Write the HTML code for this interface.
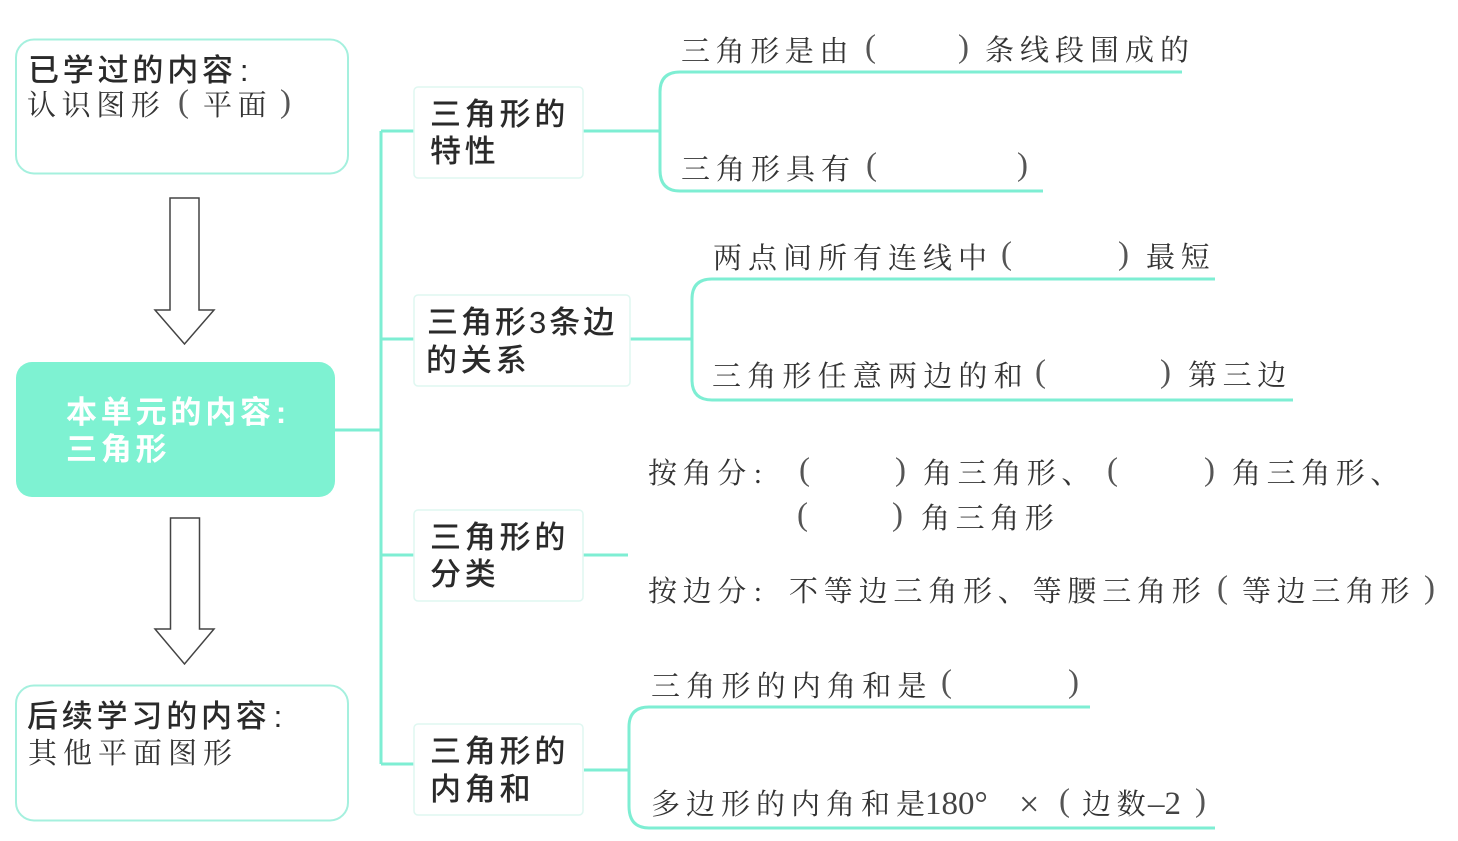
<!DOCTYPE html>
<html><head><meta charset="utf-8">
<style>
html,body{margin:0;padding:0;background:#fff;width:1458px;height:841px;overflow:hidden}
svg{display:block}
.h{font-family:"Liberation Sans","Noto Sans CJK SC",sans-serif;font-size:31px;fill:#2a2a2a;letter-spacing:3.8px;font-weight:500}
.w{font-family:"Liberation Sans","Noto Sans CJK SC",sans-serif;font-size:31px;fill:#fff;letter-spacing:3.8px;font-weight:700}
.s{font-family:"Liberation Serif","Noto Serif CJK SC",serif;font-size:29px;fill:#333;letter-spacing:5.6px}
.x{letter-spacing:6px}
.p{font-family:"Liberation Serif",serif;font-size:33px;fill:#555;transform:translateY(-3px)}
.n{font-family:"Liberation Serif",serif;font-size:33px;fill:#444}
.l{fill:none;stroke:#7eeed3;stroke-width:3}
</style></head><body>
<svg width="1458" height="841" viewBox="0 0 1458 841" xmlns="http://www.w3.org/2000/svg">
<rect width="1458" height="841" fill="#fff"/>
<rect x="16" y="39.500" width="332" height="134" rx="18" fill="#fff" stroke="#a5f0de" stroke-width="2"/>
<rect x="16" y="685.500" width="332" height="135" rx="18" fill="#fff" stroke="#a5f0de" stroke-width="2"/>
<rect x="16" y="362" width="319" height="135" rx="16" fill="#7ef2d2"/>
<path d="M170 198H199V310H214L184.500 344L155 310H170Z" fill="#fff" stroke="#444" stroke-width="1.500"/>
<path d="M170.500 518H199.500V629H214L184.500 664L155 629H170.500Z" fill="#fff" stroke="#444" stroke-width="1.500"/>
<path class="l" d="M335 430H381M381 131V764M381 131H414M381 339H414M381 555H414M381 764H414"/>
<path class="l" d="M583 131H660M630 339H692M583 555H628M584 770H629"/>
<path class="l" d="M1182 72H680Q660 72 660 92V170Q660 191 680 191H1043"/>
<path class="l" d="M1215 279H712Q692 279 692 299V380Q692 400 712 400H1293"/>
<path class="l" d="M1090 707H649Q629 707 629 727V806Q629 828 649 828H1215"/>
<g fill="#fff" stroke="#dff7f1" stroke-width="1.500">
<rect x="414" y="87" width="169" height="91" rx="4"/>
<rect x="414" y="295" width="216" height="91" rx="4"/>
<rect x="414" y="510" width="169" height="91" rx="4"/>
<rect x="414" y="724" width="169" height="91" rx="4"/>
</g>
<text class="h" x="28" y="81">已学过的内容<tspan dx="3">:</tspan></text>
<text class="s" x="27" y="115">认识图形</text><text class="p" x="178" y="115">(</text><text class="s" x="203" y="115">平面</text><text class="p" x="280" y="115">)</text>
<text class="w" x="66" y="423">本单元的内容<tspan dx="1">:</tspan></text>
<text class="w" x="66" y="460">三角形</text>
<text class="h" x="27" y="727">后续学习的内容<tspan dx="3">:</tspan></text>
<text class="s x" x="28" y="763">其他平面图形</text>
<text class="h" x="430" y="125">三角形的</text><text class="h" x="430" y="162">特性</text>
<text class="h" x="427" y="333" style="letter-spacing:3px">三角形3条边</text><text class="h" x="426" y="371">的关系</text>
<text class="h" x="430" y="548">三角形的</text><text class="h" x="430" y="585">分类</text>
<text class="h" x="430" y="762">三角形的</text><text class="h" x="430" y="800">内角和</text>
<text class="s" x="681" y="61">三角形是由</text><text class="p" x="865" y="60">(</text><text class="p" x="958" y="60">)</text><text class="s x" x="985" y="60">条线段围成的</text>
<text class="s x" x="681" y="179">三角形具有</text><text class="p" x="866" y="178">(</text><text class="p" x="1017" y="178">)</text>
<text class="s x" x="713" y="268">两点间所有连线中</text><text class="p" x="1001" y="267">(</text><text class="p" x="1118" y="267">)</text><text class="s" x="1146" y="267">最短</text>
<text class="s" x="712" y="386" style="letter-spacing:6.2px">三角形任意两边的和</text><text class="p" x="1035" y="385">(</text><text class="p" x="1160" y="385">)</text><text class="s" x="1188" y="385">第三边</text>
<text class="s" x="648" y="483">按角分<tspan dx="2">:</tspan></text><text class="p" x="799" y="483">(</text><text class="p" x="895" y="483">)</text><text class="s" x="923" y="483">角三角形、</text><text class="p" x="1107" y="483">(</text><text class="p" x="1204" y="483">)</text><text class="s" x="1232" y="483">角三角形、</text>
<text class="p" x="797" y="528">(</text><text class="p" x="892" y="528">)</text><text class="s" x="921" y="528">角三角形</text>
<text class="s" x="648" y="601">按边分<tspan dx="2">:</tspan></text><text class="s" x="789" y="601" style="letter-spacing:5.8px">不等边三角形、等腰三角形</text><text class="p" x="1217" y="601">(</text><text class="s" x="1242" y="601">等边三角形</text><text class="p" x="1424" y="601">)</text>
<text class="s" x="651" y="696" style="letter-spacing:6.2px">三角形的内角和是</text><text class="p" x="941" y="695">(</text><text class="p" x="1068" y="695">)</text>
<text class="s x" x="651" y="814">多边形的内角和是</text><text class="n" x="925" y="814">180°</text><text class="n" x="1019" y="816" style="font-size:36px">×</text><text class="p" x="1059" y="814">(</text><text class="s" x="1082" y="814">边数</text><text class="n" x="1148" y="814">–2</text><text class="p" x="1195" y="814">)</text>
</svg>
</body></html>
